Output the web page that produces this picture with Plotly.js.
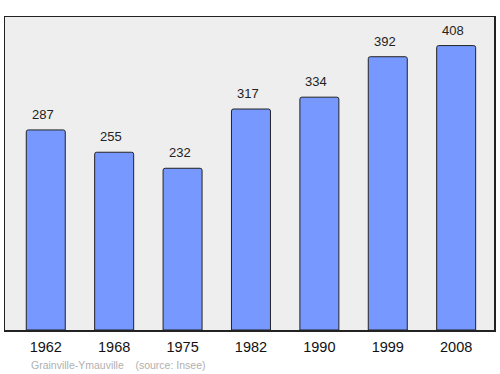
<!DOCTYPE html>
<html>
<head>
<meta charset="utf-8">
<script src="https://cdn.plot.ly/plotly-3.0.1.min.js"></script>
<style>html,body{margin:0;padding:0;background:#fff;}#chart{width:500px;height:374px;}</style>
</head>
<body>
<div id="chart"></div>
<script>
const years = ["1962", "1968", "1975", "1982", "1990", "1999", "2008"];
const population = [287, 255, 232, 317, 334, 392, 408];
const sourceText = "Grainville-Ymauville    (source: Insee)";

const trace = {
  type: "bar",
  x: years,
  y: population,
  width: 0.57,
  marker: {color: "#7799ff", line: {color: "#222", width: 1}, cornerradius: 2},
  hoverinfo: "none"
};

const labels = years.map((y, i) => ({
  x: i, y: population[i], xref: "x", yref: "y",
  text: String(population[i]), showarrow: false,
  yanchor: "bottom", yshift: 6, xshift: -3,
  font: {family: "Liberation Sans, Arial, sans-serif", size: 13, color: "#222"}
}));

labels.push({
  xref: "paper", yref: "paper", x: 0.049, y: -0.085,
  xanchor: "left", yanchor: "top", showarrow: false,
  text: sourceText,
  font: {family: "Liberation Sans, Arial, sans-serif", size: 10.5, color: "#b0b0b0"}
});

const layout = {
  width: 500, height: 374,
  margin: {l: 5, r: 6, t: 17, b: 44, pad: 0},
  paper_bgcolor: "#ffffff",
  plot_bgcolor: "#eeeeee",
  showlegend: false,
  xaxis: {
    type: "category", range: [-0.596, 6.553],
    showline: true, mirror: true, linecolor: "#222", linewidth: 1.5,
    ticks: "", showgrid: false, zeroline: false, ticklabelstandoff: 3,
    tickfont: {family: "Liberation Sans, Arial, sans-serif", size: 14.5, color: "#111"}
  },
  yaxis: {
    range: [0, 449], showline: true, mirror: true, linecolor: "#222", linewidth: 1.5,
    showticklabels: false, ticks: "", showgrid: false, zeroline: false
  },
  annotations: labels
};

Plotly.newPlot("chart", [trace], layout, {staticPlot: true, displayModeBar: false});
</script>
</body>
</html>
